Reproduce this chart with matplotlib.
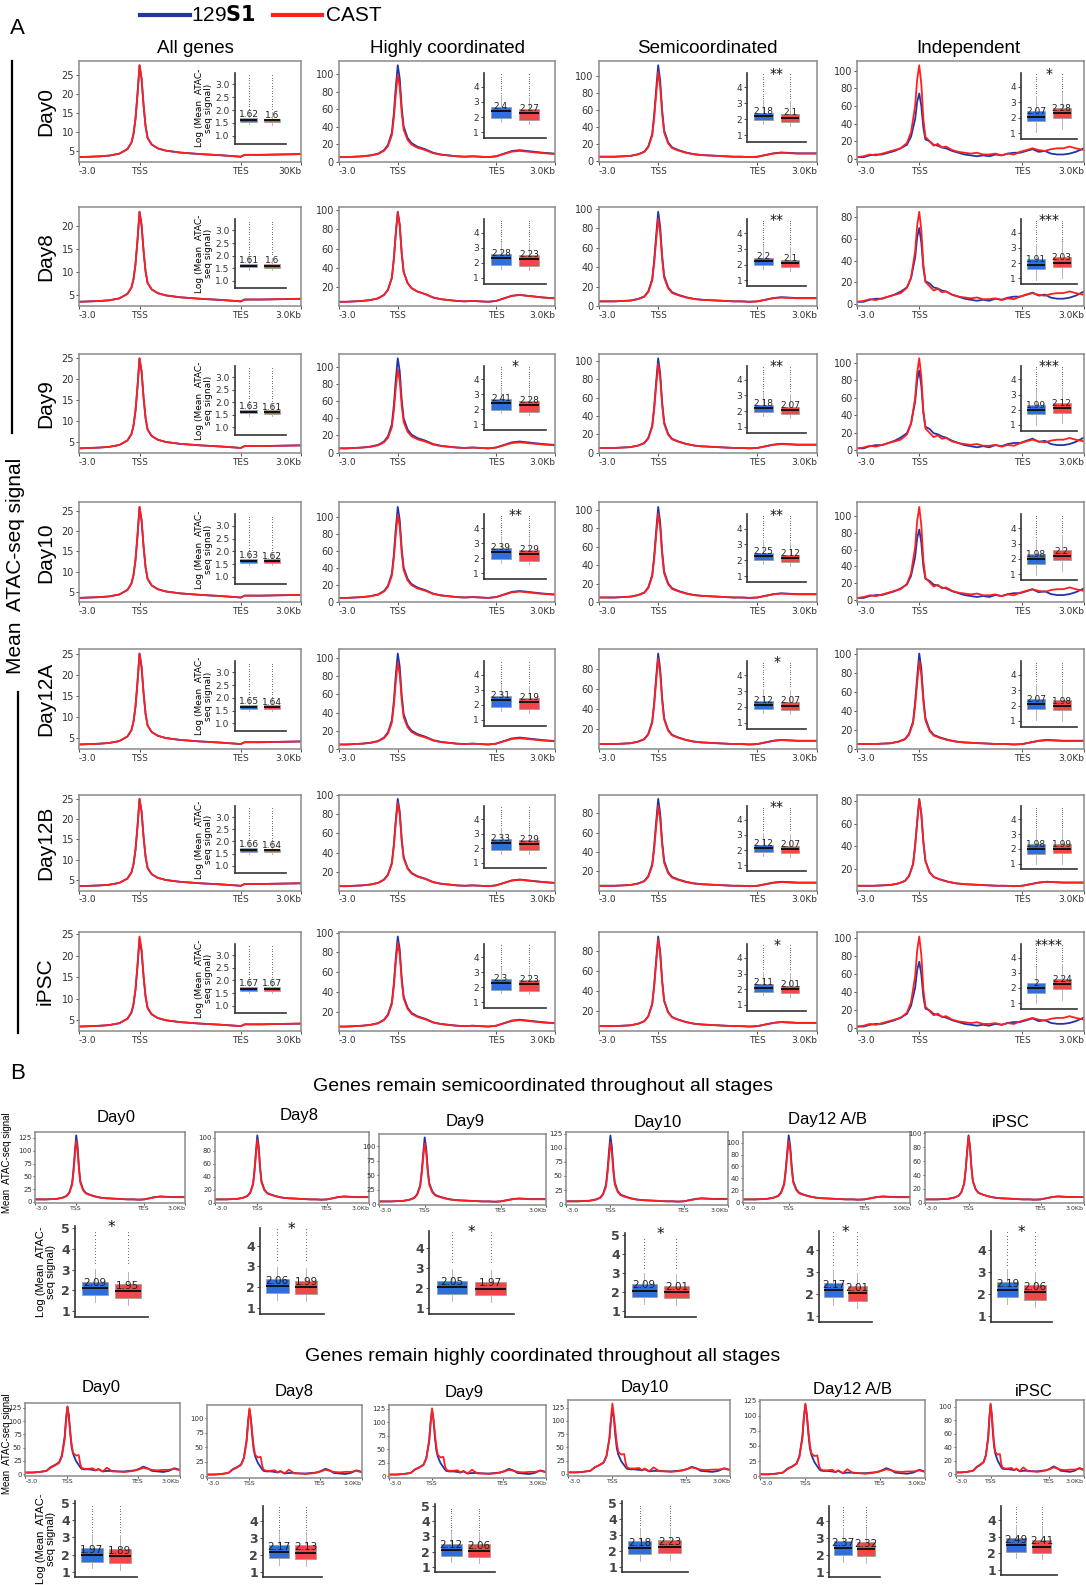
import numpy as np
import matplotlib
matplotlib.use("Agg")
import matplotlib.pyplot as plt

# reference picture coordinates (shrunk copy), used only for layout
W, H = 1074, 1568

BLUE = "#1f35a8"
RED = "#ff1f1f"
BOX_BLUE = "#2f6fdb"
BOX_RED = "#f04848"
TXT = "Liberation Sans"

# ---------------- data ----------------
rows_a = ["Day0", "Day8", "Day9", "Day10", "Day12A", "Day12B", "iPSC"]
cols_a = ["All genes", "Highly coordinated", "Semicoordinated", "Independent"]

# peak heights of the profiles (129S1, CAST)
peak_all = [(27.5, 27.5), (23, 23), (25, 25), (26, 26), (25, 25), (25, 25), (24, 24.5)]
peak_hc = [(110, 99), (98, 97), (110, 97), (112, 103), (105, 95), (96, 92), (96, 90)]
peak_sc = [(113, 105), (97, 90), (103, 97), (103, 96), (95, 90), (95, 88), (95, 92)]
peak_ind = [(74, 106), (70, 85), (91, 105), (84, 111), (101, 93), (82, 81), (74, 102)]
# independent profiles that look smooth rather than noisy
smooth_ind = [False, False, False, False, True, True, False]

# medians of the inset boxplots (129S1, CAST) and significance
med_all = [(1.62, 1.6), (1.61, 1.6), (1.63, 1.61), (1.63, 1.62), (1.65, 1.64), (1.66, 1.64), (1.67, 1.67)]
med_hc = [(2.4, 2.27), (2.28, 2.23), (2.41, 2.28), (2.39, 2.29), (2.31, 2.19), (2.33, 2.29), (2.3, 2.23)]
med_sc = [(2.18, 2.1), (2.2, 2.1), (2.18, 2.07), (2.25, 2.12), (2.12, 2.07), (2.12, 2.07), (2.11, 2.01)]
med_ind = [(2.07, 2.28), (1.91, 2.03), (1.99, 2.12), (1.98, 2.2), (2.07, 1.98), (1.98, 1.99), (2, 2.24)]
star_hc = ["", "", "*", "**", "", "", ""]
star_sc = ["**", "**", "**", "**", "*", "**", "*"]
star_ind = ["*", "***", "***", "", "", "", "****"]

# box half heights / whisker lengths per column (below, above)
box_all, whisk_all = (0.07, 0.07), (0.1, 0.25)
box_hc, whisk_hc = (0.45, 0.27), (0.25, 0.8)
box_sc, whisk_sc = (0.25, 0.22), (0.25, 0.8)
box_ind, whisk_ind = (0.3, 0.35), (0.7, 1.0)
fliers_all = [1.95, 2.05, 2.15, 2.25, 2.35, 2.45, 2.55, 2.65, 2.75, 2.85, 2.95, 3.05, 3.15, 3.25, 3.35]
fliers_big = [3.3, 3.45, 3.6, 3.75, 3.9, 4.05, 4.2, 4.35, 4.5, 4.65, 4.8]

# profile shapes (bins: -3.0=0, TSS=30, TES=80, 3.0Kb=110)
x_all = [0, 5, 10, 15, 20, 24, 26, 27, 28, 29, 30, 31, 32, 33, 34, 36, 39, 43, 50, 60,
         70, 78, 80, 82, 90, 100, 110]
y_all = [3.5, 3.6, 3.7, 3.9, 4.4, 5.6, 7.3, 9.5, 13.5, 20, 27.5, 24, 17, 11.5, 8.5, 6.8, 5.8, 5.2, 4.7, 4.3,
         4.0, 3.7, 3.6, 4.1, 4.1, 4.2, 4.3]
x_hc = [0, 4, 8, 12, 16, 20, 23, 25, 27, 28, 29, 30, 31, 32, 33, 35, 37, 40, 44, 48,
        52, 56, 60, 64, 68, 72, 76, 80, 84, 88, 92, 96, 100, 104, 110]
y_hc = [5, 5, 5.5, 6, 7, 9, 13, 19, 33, 55, 85, 110, 95, 62, 40, 27, 21, 17, 14, 10,
        8, 7, 6, 5.5, 6, 5.5, 5, 6, 9, 12, 13, 12, 11, 10, 9]
y_sc = [5, 5, 5, 5.5, 6, 8, 11, 17, 32, 55, 85, 113, 95, 60, 36, 22, 16, 13, 10, 8,
        7, 6.5, 6, 5.5, 5, 5, 4.5, 5, 7, 9, 10, 9.5, 9, 9, 9]
x_ind = [0, 3, 6, 9, 12, 15, 18, 21, 24, 26, 28, 29, 30, 31, 32, 33, 35, 37, 39, 41,
         43, 46, 49, 52, 55, 58, 61, 64, 67, 70, 73, 76, 79, 82, 85, 88, 91, 94, 97, 100,
         103, 106, 110]
y_ind_red = [2, 3, 5, 4, 6, 8, 10, 12, 18, 30, 60, 90, 106, 85, 45, 25, 20, 15, 17, 13,
             14, 10, 8, 7, 6, 7, 5, 5, 6, 4, 6, 5, 8, 10, 12, 10, 9, 11, 12, 12,
             14, 12, 10]
y_ind_blue = [2, 2, 4, 5, 5, 7, 9, 12, 16, 25, 45, 65, 74, 60, 35, 22, 20, 16, 15, 13,
              12, 9, 7, 5, 4, 3, 4, 3, 5, 4, 6, 7, 7, 9, 11, 8, 9, 6, 5, 5,
              6, 8, 12]
x_bh = [0, 5, 10, 15, 18, 21, 24, 26, 28, 29, 30, 31, 32, 33, 34, 36, 38, 39, 40, 42,
        45, 48, 50, 52, 55, 58, 62, 66, 70, 74, 78, 81, 84, 87, 90, 94, 98, 102, 106, 110]
y_bh_blue = [3, 3, 4, 6, 13, 17, 22, 35, 70, 105, 127, 110, 75, 50, 38, 25, 17, 13, 10, 9,
             9, 8, 7, 9, 5, 6, 6, 5, 5, 6, 7, 10, 14, 11, 6, 5, 4, 6, 11, 8]
y_bh_red = [3, 3, 4, 6, 12, 16, 21, 33, 65, 100, 127, 105, 80, 55, 40, 35, 36, 20, 12, 10,
            10, 11, 7, 10, 5, 12, 5, 5, 4, 5, 7, 9, 12, 10, 8, 7, 8, 8, 10, 7]

# panel B
days_b = ["Day0", "Day8", "Day9", "Day10", "Day12 A/B", "iPSC"]
peak_bsc = [(130, 120), (104, 97), (115, 105), (122, 110), (112, 103), (97, 95)]
peak_bhc = [(128, 127), (115, 117), (122, 126), (122, 133), (118, 120), (103, 105)]
step_bsc = [25, 20, 25, 25, 20, 20]
step_bhc = [25, 25, 25, 25, 25, 20]
med_bsc = [(2.09, 1.95), (2.06, 1.99), (2.05, 1.97), (2.09, 2.01), (2.17, 2.01), (2.19, 2.06)]
med_bhc = [(1.97, 1.89), (2.17, 2.13), (2.12, 2.06), (2.18, 2.23), (2.37, 2.32), (2.49, 2.41)]
top_bsc = [5, 4, 4, 5, 4, 4]
top_bhc = [5, 4, 5, 5, 4, 4]
box_bsc, whisk_bsc = (0.33, 0.33), (0.35, 0.6)
box_bhc, whisk_bhc = (0.38, 0.42), (0.4, 0.8)

# ---------------- layout ----------------
col_x = [(78, 298), (335, 549), (592, 808), (848, 1072)]
row_y = [(60, 160), (205, 303), (350, 448), (497, 596), (642, 741), (786, 881), (922, 1020)]
inset_pos = [[0.70, 0.18, 0.23, 0.70], [0.67, 0.23, 0.29, 0.65],
             [0.68, 0.20, 0.27, 0.68], [0.72, 0.22, 0.25, 0.66]]
b1_prof = [(35, 1120, 183, 1190), (213, 1120, 365, 1190), (375, 1122, 540, 1192),
           (560, 1120, 720, 1192), (735, 1120, 900, 1190), (915, 1120, 1072, 1190)]
b1_box = [(74, 1213, 146, 1303), (257, 1215, 320, 1300), (424, 1218, 508, 1300),
          (618, 1220, 688, 1303), (810, 1218, 862, 1308), (980, 1218, 1040, 1308)]
b1_title = [(115, 1106), (296, 1104), (460, 1109), (650, 1110), (818, 1107), (1000, 1110)]
b2_prof = [(25, 1388, 178, 1460), (205, 1390, 358, 1462), (385, 1390, 540, 1462),
           (562, 1385, 722, 1460), (752, 1385, 915, 1462), (945, 1385, 1072, 1460)]
b2_box = [(74, 1485, 135, 1560), (260, 1490, 318, 1560), (430, 1488, 490, 1555),
          (615, 1485, 680, 1555), (820, 1490, 870, 1560), (990, 1490, 1045, 1558)]
b2_title = [(100, 1373), (291, 1377), (459, 1378), (638, 1373), (843, 1375), (1022, 1377)]


def rect(x0, y0, x1, y1):
    return [x0 / W, 1 - y1 / H, (x1 - x0) / W, (y1 - y0) / H]


def fx(x):
    return x / W


def fy(y):
    return 1 - y / H


def rescale(t, peak):
    t = np.asarray(t, dtype=float)
    b = t[0]
    return b + (t - b) * (peak - b) / (t.max() - b)


def draw_profile(ax, x, yb, yr, ticks, fs, end_label="3.0Kb"):
    ax.plot(x, yb, color=BLUE, lw=1.3)
    ax.plot(x, yr, color=RED, lw=1.3)
    ax.set_xlim(0, 110)
    ax.set_xticks([0, 30, 80, 110])
    ax.set_xticklabels(["-3.0", "TSS", "TES", end_label], fontsize=fs)
    for lbl, ha in zip(ax.get_xticklabels(), ["left", "center", "center", "right"]):
        lbl.set_ha(ha)
    ax.set_yticks(ticks)
    ax.tick_params(axis="y", labelsize=fs + 0.5)
    ax.tick_params(length=2, width=0.6, pad=1.5, colors="#333333")
    lo = min(np.min(yb), np.min(yr))
    hi = max(np.max(yb), np.max(yr))
    pad = 0.05 * (hi - lo)
    ax.set_ylim(lo - pad, hi + pad)
    for s in ax.spines.values():
        s.set_color("#8a8a8a")
        s.set_linewidth(1.1)


def draw_box(ax, meds, box, whisk, fliers, ylim, ticks, tick_fmt, star, fs, star_fs, med_fs,
             width=0.7):
    stats = []
    for m in meds:
        q1, q3 = m - box[0], m + box[1]
        hi = q3 + whisk[1]
        stats.append(dict(med=m, q1=q1, q3=q3, whislo=q1 - whisk[0], whishi=hi,
                          fliers=[f for f in fliers if f > hi + 0.05]))
    bp = ax.bxp(stats, positions=[1, 2], widths=width, patch_artist=True, showfliers=True,
                medianprops=dict(color="#111111", lw=1.4),
                whiskerprops=dict(color="#aaaaaa", lw=0.6),
                capprops=dict(lw=0),
                flierprops=dict(marker=".", ms=1.6, mfc="#666666", mec="none"))
    for patch, c in zip(bp["boxes"], [BOX_BLUE, BOX_RED]):
        patch.set_facecolor(c)
        patch.set_edgecolor("#9a9a9a")
        patch.set_linewidth(0.5)
    for pos, m in zip([1, 2], meds):
        ax.text(pos, m + 0.02, f"{m:g}", ha="center", va="bottom", fontsize=med_fs, color="#222222")
    if star:
        ax.text(1.5, ylim[1] - 0.05, star, ha="center", va="center", fontsize=star_fs, color="#111111")
    ax.set_xlim(0.4, 2.6)
    ax.set_ylim(*ylim)
    ax.set_yticks(ticks)
    ax.set_yticklabels([tick_fmt.format(t) for t in ticks])
    ax.set_xticks([])
    ax.tick_params(axis="y", labelsize=fs, length=2, width=0.6, pad=1.5, colors="#333333")
    ax.patch.set_alpha(0)
    for s in ["top", "right"]:
        ax.spines[s].set_visible(False)
    for s in ["left", "bottom"]:
        ax.spines[s].set_color("#333333")
        ax.spines[s].set_linewidth(1.2)


fig = plt.figure(figsize=(10.86, 15.85), dpi=100)

# ---------------- panel A ----------------
fig.text(fx(10), fy(28), "A", fontsize=16, family=TXT, va="center")
fig.text(fx(10), fy(1062), "B", fontsize=16, family=TXT, va="center")

# legend
fig.add_artist(plt.Line2D([fx(138), fx(188)], [fy(15), fy(15)], color=BLUE, lw=3))
fig.text(fx(189), fy(15), r"129$\mathbf{S1}$", fontsize=15, va="center", family=TXT)
fig.add_artist(plt.Line2D([fx(270), fx(318)], [fy(15), fy(15)], color=RED, lw=3))
fig.text(fx(322), fy(15), "CAST", fontsize=15, va="center", family=TXT)

title_x = [193, 443, 700, 958]
for cx, name in zip(title_x, cols_a):
    fig.text(fx(cx), fy(48), name, ha="center", va="center", fontsize=13.5, family=TXT)

fig.add_artist(plt.Line2D([fx(12), fx(12)], [fy(60), fy(428)], color="k", lw=1.6))
fig.add_artist(plt.Line2D([fx(18), fx(18)], [fy(685), fy(1022)], color="k", lw=1.6))
fig.text(fx(15), fy(560), "Mean  ATAC-seq signal", rotation=90, ha="center", va="center",
         fontsize=15, family=TXT)

yt_small = list(range(5, 30, 5))
yt_big = list(range(0, 121, 20))

for r, day in enumerate(rows_a):
    y0, y1 = row_y[r]
    fig.text(fx(45), fy((y0 + y1) / 2), day, rotation=90, ha="center", va="center",
             fontsize=15, family=TXT)
    for c in range(4):
        x0, x1 = col_x[c]
        ax = fig.add_axes(rect(x0, y0, x1, y1))
        if c == 0:
            draw_profile(ax, x_all, rescale(y_all, peak_all[r][0]), rescale(y_all, peak_all[r][1]),
                         yt_small, 6.5, "30Kb" if r == 0 else "3.0Kb")
        elif c == 1:
            draw_profile(ax, x_hc, rescale(y_hc, peak_hc[r][0]), rescale(y_hc, peak_hc[r][1]),
                         yt_big, 6.5)
        elif c == 2:
            draw_profile(ax, x_hc, rescale(y_sc, peak_sc[r][0]), rescale(y_sc, peak_sc[r][1]),
                         yt_big, 6.5)
        elif smooth_ind[r]:
            draw_profile(ax, x_hc, rescale(y_sc, peak_ind[r][0]), rescale(y_sc, peak_ind[r][1]),
                         yt_big, 6.5)
        else:
            draw_profile(ax, x_ind, rescale(y_ind_blue, peak_ind[r][0]),
                         rescale(y_ind_red, peak_ind[r][1]), yt_big, 6.5)

        ins = ax.inset_axes(inset_pos[c])
        if c == 0:
            draw_box(ins, med_all[r], box_all, whisk_all, fliers_all, (0.7, 3.45),
                     [1.0, 1.5, 2.0, 2.5, 3.0], "{:.1f}", "", 6.5, 9, 6.5)
            ins.set_ylabel("Log (Mean  ATAC-\nseq signal)", fontsize=6.5, labelpad=2,
                           linespacing=0.95)
        else:
            meds = [med_hc, med_sc, med_ind][c - 1][r]
            box = [box_hc, box_sc, box_ind][c - 1]
            wh = [whisk_hc, whisk_sc, whisk_ind][c - 1]
            star = [star_hc, star_sc, star_ind][c - 1][r]
            draw_box(ins, meds, box, wh, fliers_big, (0.6, 4.9), [1, 2, 3, 4], "{:d}",
                     star, 6.5, 10, 6.5)

# ---------------- panel B ----------------
sections = [
    ("Genes remain semicoordinated throughout all stages", 1075, b1_prof, b1_box, b1_title,
     peak_bsc, step_bsc, med_bsc, top_bsc, box_bsc, whisk_bsc, "*", x_hc, y_sc, y_sc, 1150, 1260),
    ("Genes remain highly coordinated throughout all stages", 1342, b2_prof, b2_box, b2_title,
     peak_bhc, step_bhc, med_bhc, top_bhc, box_bhc, whisk_bhc, "", x_bh, y_bh_blue, y_bh_red, 1428, 1525),
]

for (title, ty, prof, boxes, titles, peaks, steps, meds, tops, box, wh, star,
     xs, tb, tr, ylab_y, blab_y) in sections:
    fig.text(fx(537), fy(ty), title, ha="center", va="center", fontsize=14, family=TXT)
    fig.text(fx(7), fy(ylab_y), "Mean  ATAC-seq signal", rotation=90, ha="center", va="center",
             fontsize=7, family=TXT)
    for i, day in enumerate(days_b):
        tx, tyy = titles[i]
        fig.text(fx(tx), fy(tyy), day, ha="center", va="center", fontsize=12, family=TXT)
        ax = fig.add_axes(rect(*prof[i]))
        draw_profile(ax, xs, rescale(tb, peaks[i][0]), rescale(tr, peaks[i][1]),
                     list(range(0, 140, steps[i])), 4.5)
        ax.tick_params(length=1.5, pad=1)
        bx = fig.add_axes(rect(*boxes[i]))
        ticks = list(range(1, tops[i] + 1))
        draw_box(bx, meds[i], box, wh, fliers_big, (0.7, tops[i] + 0.1 if tops[i] == 5 else 4.85),
                 ticks, "{:d}", star, 9, 11, 7.5, width=0.78)
        for lbl in bx.get_yticklabels():
            lbl.set_fontweight("bold")
            lbl.set_color("#444444")
        if i == 0:
            bx.set_ylabel("Log (Mean  ATAC-\nseq signal)", fontsize=8, labelpad=4, linespacing=0.95,
                          family=TXT)

fig.savefig("out.png", dpi=100)
